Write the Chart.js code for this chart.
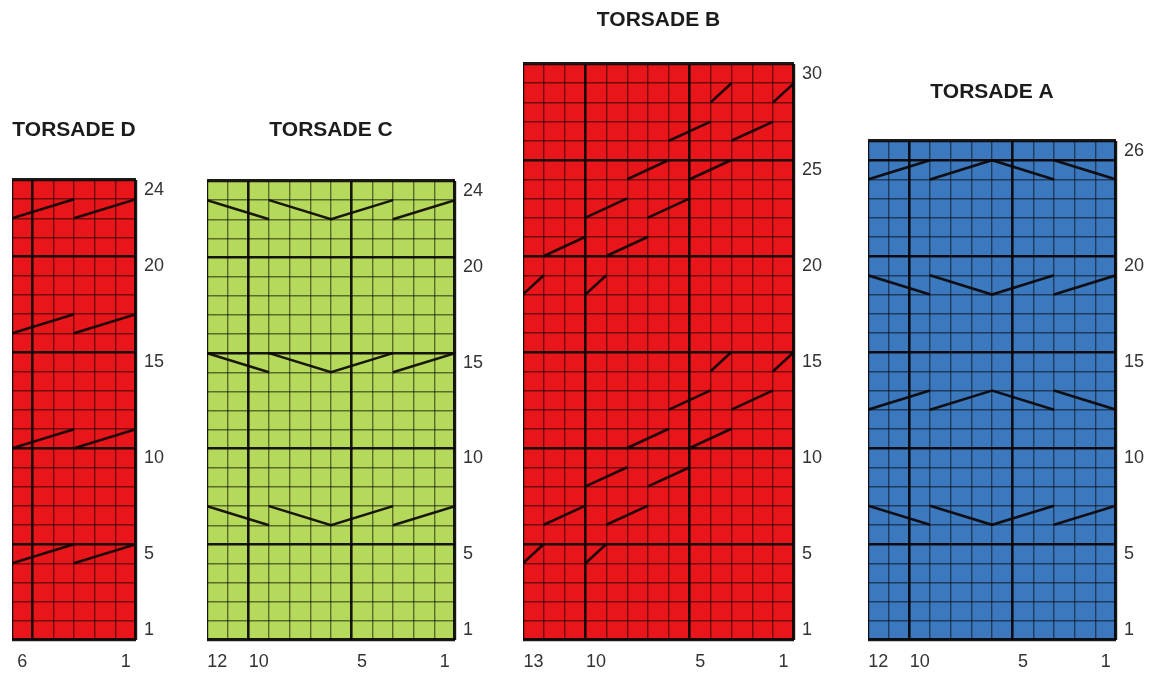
<!DOCTYPE html>
<html><head><meta charset="utf-8">
<script src="https://cdn.jsdelivr.net/npm/chart.js@4.4.1/dist/chart.umd.min.js"></script>
<style>
html,body{margin:0;padding:0;background:#fff;width:1150px;height:675px;overflow:hidden;position:relative;}
canvas{position:absolute;}
</style></head><body>
<canvas id="chartD"></canvas>
<canvas id="chartC"></canvas>
<canvas id="chartB"></canvas>
<canvas id="chartA"></canvas>
<script>
// ---------------- DATA ----------------
const titleD = 'TORSADE D';
const titleC = 'TORSADE C';
const titleB = 'TORSADE B';
const titleA = 'TORSADE A';

const stitchesD = 6,  rowsD = 24;
const stitchesC = 12, rowsC = 24;
const stitchesB = 13, rowsB = 30;
const stitchesA = 12, rowsA = 26;

const rowLabelsD = [1, 5, 10, 15, 20, 24];
const rowLabelsC = [1, 5, 10, 15, 20, 24];
const rowLabelsB = [1, 5, 10, 15, 20, 25, 30];
const rowLabelsA = [1, 5, 10, 15, 20, 26];

const colLabelsD = [1, 6];
const colLabelsC = [1, 5, 10, 12];
const colLabelsB = [1, 5, 10, 13];
const colLabelsA = [1, 5, 10, 12];

const majorColsD = [5];
const majorColsC = [5, 10];
const majorColsB = [5, 10];
const majorColsA = [5, 10];
const majorRows  = [5, 10, 15, 20, 25];

// cable crossings: polylines of [stitch, row] points (grid boundary units)
const cablesD = [
  [[6.5, 4.5], [3.5, 5.5]],   [[3.5, 4.5], [0.5, 5.5]],
  [[6.5, 10.5], [3.5, 11.5]], [[3.5, 10.5], [0.5, 11.5]],
  [[6.5, 16.5], [3.5, 17.5]], [[3.5, 16.5], [0.5, 17.5]],
  [[6.5, 22.5], [3.5, 23.5]], [[3.5, 22.5], [0.5, 23.5]]
];
const cablesC = [
  [[12.5, 7.5], [9.5, 6.5]],  [[9.5, 7.5], [6.5, 6.5], [3.5, 7.5]],   [[3.5, 6.5], [0.5, 7.5]],
  [[12.5, 15.5], [9.5, 14.5]], [[9.5, 15.5], [6.5, 14.5], [3.5, 15.5]], [[3.5, 14.5], [0.5, 15.5]],
  [[12.5, 23.5], [9.5, 22.5]], [[9.5, 23.5], [6.5, 22.5], [3.5, 23.5]], [[3.5, 22.5], [0.5, 23.5]]
];
const cablesB = [
  [[13.5, 4.5], [12.5, 5.5]], [[10.5, 4.5], [9.5, 5.5]],
  [[12.5, 6.5], [10.5, 7.5]], [[9.5, 6.5], [7.5, 7.5]],
  [[10.5, 8.5], [8.5, 9.5]],  [[7.5, 8.5], [5.5, 9.5]],
  [[8.5, 10.5], [6.5, 11.5]], [[5.5, 10.5], [3.5, 11.5]],
  [[6.5, 12.5], [4.5, 13.5]], [[3.5, 12.5], [1.5, 13.5]],
  [[4.5, 14.5], [3.5, 15.5]], [[1.5, 14.5], [0.5, 15.5]],
  [[13.5, 18.5], [12.5, 19.5]], [[10.5, 18.5], [9.5, 19.5]],
  [[12.5, 20.5], [10.5, 21.5]], [[9.5, 20.5], [7.5, 21.5]],
  [[10.5, 22.5], [8.5, 23.5]],  [[7.5, 22.5], [5.5, 23.5]],
  [[8.5, 24.5], [6.5, 25.5]],   [[5.5, 24.5], [3.5, 25.5]],
  [[6.5, 26.5], [4.5, 27.5]],   [[3.5, 26.5], [1.5, 27.5]],
  [[4.5, 28.5], [3.5, 29.5]],   [[1.5, 28.5], [0.5, 29.5]]
];
const cablesA = [
  [[12.5, 7.5], [9.5, 6.5]],   [[9.5, 7.5], [6.5, 6.5], [3.5, 7.5]],     [[3.5, 6.5], [0.5, 7.5]],
  [[12.5, 12.5], [9.5, 13.5]], [[9.5, 12.5], [6.5, 13.5], [3.5, 12.5]],  [[3.5, 13.5], [0.5, 12.5]],
  [[12.5, 19.5], [9.5, 18.5]], [[9.5, 19.5], [6.5, 18.5], [3.5, 19.5]],  [[3.5, 18.5], [0.5, 19.5]],
  [[12.5, 24.5], [9.5, 25.5]], [[9.5, 24.5], [6.5, 25.5], [3.5, 24.5]],  [[3.5, 25.5], [0.5, 24.5]]
];

// ---------------- LAYOUT & STYLE ----------------
const layoutBoxes = {
  D: {left: 12,  right: 136,  top: 180, bottom: 640, titleY: 131},
  C: {left: 207, right: 455,  top: 181, bottom: 640, titleY: 131},
  B: {left: 523, right: 794,  top: 64,  bottom: 640, titleY: 21},
  A: {left: 868, right: 1116, top: 141, bottom: 640, titleY: 93}
};
const fills = {D: '#e8151b', C: '#b5d95a', B: '#e8151b', A: '#3c78bd'};
const AXW = 42, XAH = 36, TITLE_SIZE = 21;
const TITLE_FONT = "'Liberation Sans',Arial,Helvetica,sans-serif";
const TICK_FONT  = "'Liberation Sans',Arial,Helvetica,sans-serif";

function boundaries(n) { const b = []; for (let k = 0; k <= n; k++) b.push(k + 0.5); return b; }
function isMajor(v, majors, n) {
  return v === 0.5 || v === n + 0.5 || majors.some(m => Math.abs(m + 0.5 - v) < 1e-6);
}
function gridColor(v, majors, n) {
  if (Number.isInteger(v)) return 'rgba(0,0,0,0)';
  return isMajor(v, majors, n) ? 'rgba(8,4,4,0.92)' : 'rgba(0,0,0,0.5)';
}
function gridWidth(v, majors, n) {
  if (Number.isInteger(v)) return 0.01;
  if (v === 0.5 || v === n + 0.5) return 3.2;
  return isMajor(v, majors, n) ? 2.6 : 1.4;
}

function buildChart(id, key, title, nCols, nRows, colLabels, rowLabels, majorCols, cables) {
  const box = layoutBoxes[key];
  const canvas = document.getElementById(id);
  const top = Math.round(box.titleY - TITLE_SIZE * 0.6);
  const w = box.right - box.left + AXW;
  const h = box.bottom + XAH - top;
  canvas.style.left = box.left + 'px';
  canvas.style.top = top + 'px';
  canvas.width = w; canvas.height = h;
  canvas.style.width = w + 'px'; canvas.style.height = h + 'px';
  const padBottom = box.top - top - TITLE_SIZE * 1.2;
  const xTicks = boundaries(nCols).concat(colLabels).sort((a, b) => a - b);
  const yTicks = boundaries(nRows).concat(rowLabels).sort((a, b) => a - b);
  const datasets = cables.map(poly => ({
    data: poly.map(p => ({x: p[0], y: p[1]})),
    showLine: true, borderColor: 'rgba(12,6,6,0.92)', borderWidth: 2.6,
    pointRadius: 0, pointHoverRadius: 0, fill: false, tension: 0
  }));
  const fill = fills[key];
  new Chart(canvas, {
    type: 'scatter',
    data: {datasets},
    options: {
      responsive: false, animation: false, events: [],
      layout: {padding: 0},
      plugins: {
        legend: {display: false}, tooltip: {enabled: false},
        title: {display: true, text: title, fullSize: false, color: '#1c1c1c',
          font: {family: TITLE_FONT, size: TITLE_SIZE, weight: 'bold'},
          padding: {top: 0, bottom: padBottom}}
      },
      scales: {
        x: {
          type: 'linear', position: 'bottom', reverse: true, bounds: 'data',
          min: 0.5, max: nCols + 0.5,
          afterBuildTicks: s => { s.ticks = xTicks.map(v => ({value: v})); },
          afterFit: s => { s.height = XAH; },
          ticks: {autoSkip: false, maxRotation: 0, minRotation: 0, padding: 11, color: '#333',
            font: {family: TICK_FONT, size: 18},
            callback: v => colLabels.includes(v) ? String(v) : ''},
          grid: {drawTicks: false,
            color: c => gridColor(c.tick.value, majorCols, nCols),
            lineWidth: c => gridWidth(c.tick.value, majorCols, nCols)},
          border: {display: false}
        },
        y: {
          type: 'linear', position: 'right', bounds: 'data',
          min: 0.5, max: nRows + 0.5,
          afterBuildTicks: s => { s.ticks = yTicks.map(v => ({value: v})); },
          afterFit: s => { s.width = AXW; },
          ticks: {autoSkip: false, padding: 8, color: '#333',
            font: {family: TICK_FONT, size: 18},
            callback: v => rowLabels.includes(v) ? String(v) : ''},
          grid: {drawTicks: false,
            color: c => gridColor(c.tick.value, majorRows, nRows),
            lineWidth: c => gridWidth(c.tick.value, majorRows, nRows)},
          border: {display: false}
        }
      }
    },
    plugins: [{
      id: 'bgfill' + key,
      beforeDraw(chart) {
        const {ctx, chartArea: a} = chart;
        ctx.save(); ctx.fillStyle = fill;
        ctx.fillRect(a.left, a.top, a.right - a.left, a.bottom - a.top);
        ctx.restore();
      }
    }]
  });
}

buildChart('chartD', 'D', titleD, stitchesD, rowsD, colLabelsD, rowLabelsD, majorColsD, cablesD);
buildChart('chartC', 'C', titleC, stitchesC, rowsC, colLabelsC, rowLabelsC, majorColsC, cablesC);
buildChart('chartB', 'B', titleB, stitchesB, rowsB, colLabelsB, rowLabelsB, majorColsB, cablesB);
buildChart('chartA', 'A', titleA, stitchesA, rowsA, colLabelsA, rowLabelsA, majorColsA, cablesA);
</script>
</body></html>
